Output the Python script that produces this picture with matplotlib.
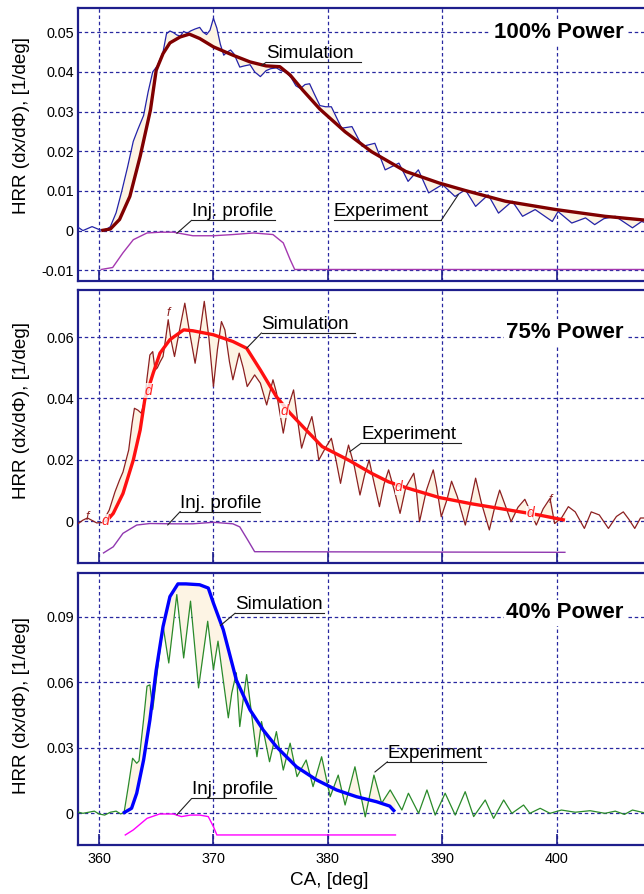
import numpy as np
import matplotlib
matplotlib.use("Agg")
import matplotlib.pyplot as plt

plt.rcParams['font.family'] = ['Liberation Sans', 'DejaVu Sans']

# ---- 100% power ----
ca_sim100 = [360.2, 361.0, 361.8, 362.7, 363.6, 364.5, 365.0, 365.6, 366.2, 367.1, 367.9, 368.8, 370.0,
             371.7, 373.2, 374.6, 375.8, 376.7, 377.8, 379.3, 381.5, 383.8, 386.8, 389.7, 392.0, 395.5,
             399.9, 404.2, 408.2]
hrr_sim100 = [0.0, 0.0004, 0.0028, 0.0086, 0.0187, 0.0304, 0.0404, 0.0446, 0.0473, 0.0488, 0.0495, 0.0484,
              0.0463, 0.0442, 0.0425, 0.0415, 0.0413, 0.0392, 0.0354, 0.0306, 0.0249, 0.0199, 0.0149, 0.0120,
              0.0101, 0.0074, 0.0053, 0.0036, 0.0025]
ca_exp100 = [358.1, 358.6, 359.0, 359.4, 359.9, 360.3, 360.7, 361.0, 361.5, 362.0, 362.5, 363.0, 363.4, 363.9,
             364.3, 364.7, 365.1, 365.6, 365.9, 366.2, 366.5, 366.8, 367.1, 367.4, 367.7, 368.0, 368.4, 368.8,
             369.1, 369.4, 369.7, 370.0, 370.3, 370.6, 370.9, 371.2, 371.5, 371.8, 372.3, 372.7, 373.2, 373.6,
             374.1, 374.6, 375.0, 375.5, 375.9, 376.3, 376.8, 377.2, 377.6, 378.0, 378.4, 378.8, 379.3, 379.8,
             380.3, 381.2, 382.1, 383.0, 384.1, 385.0, 386.2, 387.0, 387.9, 388.8, 390.0, 391.1, 392.0, 392.9,
             394.0, 394.9, 396.1, 397.0, 398.1, 399.6, 400.1, 401.3, 402.5, 403.3, 404.1, 405.1, 406.6, 407.4,
             408.2]
hrr_exp100 = [0.0010, 0.0000, 0.0005, 0.0010, 0.0004, 0.0000, 0.0004, 0.0010, 0.0045, 0.0100, 0.0160, 0.0225,
              0.0255, 0.0290, 0.0350, 0.0400, 0.0415, 0.0450, 0.0496, 0.0503, 0.0499, 0.0493, 0.0490, 0.0502,
              0.0497, 0.0503, 0.0508, 0.0512, 0.0500, 0.0494, 0.0505, 0.0535, 0.0510, 0.0470, 0.0442, 0.0450,
              0.0455, 0.0445, 0.0412, 0.0415, 0.0418, 0.0400, 0.0388, 0.0403, 0.0408, 0.0410, 0.0403, 0.0400,
              0.0385, 0.0365, 0.0358, 0.0368, 0.0370, 0.0345, 0.0315, 0.0312, 0.0312, 0.0258, 0.0262, 0.0212,
              0.0220, 0.0153, 0.0170, 0.0124, 0.0153, 0.0095, 0.0116, 0.0086, 0.0103, 0.0061, 0.0090, 0.0044,
              0.0074, 0.0036, 0.0053, 0.0023, 0.0048, 0.0019, 0.0032, 0.0015, 0.0030, 0.0036, 0.0007, 0.0023,
              0.0015]
ca_inj100 = [360.2, 361.2, 362.1, 363.0, 364.2, 365.4, 366.5, 368.2, 370.0, 371.7, 373.5, 375.2, 376.1, 376.7,
             377.1, 408.2]
inj100 = [-0.0098, -0.0093, -0.0056, -0.0023, -0.0006, -0.0004, -0.0004, -0.0013, -0.0013, -0.0010, -0.0006,
          -0.0010, -0.0031, -0.0073, -0.0098, -0.0098]

# ---- 75% power ----
ca_sim75 = [360.6, 361.25, 362.1, 363.0, 363.6, 364.0, 364.74, 365.33, 366.2, 367.4, 368.2, 370.0, 371.7, 372.9,
            374.1, 375.5, 376.7, 378.1, 379.5, 381.8, 383.8, 385.3, 387.0, 389.7, 392.6, 395.5, 398.4, 400.7]
hrr_sim75 = [-0.0003, 0.0025, 0.0090, 0.0199, 0.0297, 0.0395, 0.0483, 0.0548, 0.0592, 0.0624, 0.0621, 0.0608,
             0.0586, 0.0564, 0.0493, 0.0406, 0.0352, 0.0297, 0.0243, 0.0199, 0.0156, 0.0128, 0.0107, 0.0077,
             0.0056, 0.0038, 0.0020, 0.0003]
ca_exp75 = [358.2, 358.6, 359.0, 359.5, 359.8, 360.3, 360.9, 361.4, 361.8, 362.1, 362.6, 362.9, 363.1, 363.4,
            363.7, 364.0, 364.2, 364.45, 364.7, 364.9, 365.1, 365.35, 365.6, 365.85, 366.05, 366.3, 366.6, 367.1,
            367.5, 367.9, 368.4, 368.8, 369.2, 369.6, 370.0, 370.35, 370.7, 371.0, 371.4, 371.7, 372.25, 372.6,
            372.95, 373.6, 374.1, 374.65, 375.2, 375.5, 376.1, 376.5, 377.0, 377.35, 377.7, 378.2, 378.6, 378.9,
            379.2, 379.8, 380.3, 380.7, 381.1, 381.5, 381.8, 382.3, 382.8, 383.2, 383.6, 384.0, 384.5, 384.9,
            385.3, 385.8, 386.3, 386.8, 387.5, 387.7, 388.0, 388.6, 389.2, 389.5, 389.9, 390.4, 390.8, 391.3,
            392.0, 392.4, 392.9, 393.4, 394.1, 394.6, 395.0, 395.5, 396.0, 396.6, 397.2, 397.7, 398.2, 398.8,
            399.4, 399.8, 400.4, 401.0, 401.6, 402.4, 403.0, 403.7, 404.5, 405.2, 405.8, 406.3, 406.8, 407.3,
            408.2]
hrr_exp75 = [-0.0008, 0.0003, 0.0010, 0.0000, -0.0006, -0.0005, 0.0036, 0.0095, 0.0134, 0.0160, 0.0232, 0.0320,
             0.0368, 0.0362, 0.0352, 0.0395, 0.0466, 0.0542, 0.0553, 0.0493, 0.0500, 0.0520, 0.0537, 0.0602,
             0.0657, 0.0590, 0.0537, 0.0635, 0.0711, 0.0620, 0.0515, 0.0610, 0.0717, 0.0600, 0.0439, 0.0560,
             0.0651, 0.0624, 0.0520, 0.0461, 0.0548, 0.0500, 0.0439, 0.0477, 0.0450, 0.0379, 0.0461, 0.0420,
             0.0287, 0.0370, 0.0428, 0.0330, 0.0238, 0.0300, 0.0341, 0.0280, 0.0199, 0.0240, 0.0270, 0.0200,
             0.0123, 0.0200, 0.0248, 0.0180, 0.0085, 0.0150, 0.0199, 0.0130, 0.0047, 0.0120, 0.0167, 0.0100,
             0.0025, 0.0110, 0.0156, 0.0110, -0.0002, 0.0100, 0.0167, 0.0110, 0.0014, 0.0070, 0.0130, 0.0080,
             -0.0013, 0.0050, 0.0140, 0.0060, -0.0029, 0.0050, 0.0101, 0.0050, -0.0002, 0.0045, 0.0071, 0.0030,
             -0.0013, 0.0040, 0.0074, -0.0008, 0.0010, 0.0047, 0.0030, -0.0024, 0.0030, 0.0020, -0.0024, 0.0015,
             0.0030, 0.0005, -0.0024, 0.0010, 0.0010]
ca_inj75 = [360.4, 361.25, 362.1, 363.3, 364.45, 366.5, 368.2, 370.0, 371.7, 372.3, 373.0, 373.6, 400.7]
inj75 = [-0.0104, -0.0084, -0.0040, -0.0013, -0.0008, -0.0009, -0.0009, -0.0004, -0.0009, -0.0019, -0.0062,
         -0.0100, -0.0102]
# marker glyphs on the 75% curves
ca_mark_d = [360.6, 364.3, 376.2, 386.2, 397.7]
hrr_mark_d = [0.0000, 0.0425, 0.0360, 0.0110, 0.0025]
ca_mark_f = [359.0, 366.05, 399.4]
hrr_mark_f = [0.0014, 0.0680, 0.0069]

# ---- 40% power ----
ca_sim40 = [362.1, 362.85, 363.3, 363.9, 364.45, 365.0, 365.6, 366.2, 366.9, 367.6, 368.8, 369.55, 370.0,
            370.86, 371.7, 372.0, 373.2, 374.35, 375.5, 377.25, 379.0, 380.75, 382.5, 384.25, 385.4, 385.85]
hrr_sim40 = [0.0, 0.0023, 0.0092, 0.0244, 0.0427, 0.0656, 0.0855, 0.0992, 0.1050, 0.1050, 0.1046, 0.1031,
             0.0962, 0.0840, 0.0671, 0.0610, 0.0473, 0.0381, 0.0305, 0.0213, 0.0153, 0.0107, 0.0076, 0.0053,
             0.0033, 0.0007]
ca_exp40 = [358.1, 358.6, 359.1, 359.6, 360.0, 360.5, 361.0, 361.5, 361.9, 362.2, 362.56, 362.94, 363.3, 363.5,
            363.9, 364.2, 364.45, 364.7, 365.1, 365.6, 366.1, 366.8, 367.4, 368.0, 368.7, 369.5, 370.0, 370.4,
            371.3, 371.6, 372.0, 372.3, 372.6, 372.9, 373.8, 374.2, 374.9, 375.5, 376.1, 376.7, 377.3, 378.1,
            378.7, 379.45, 380.2, 380.9, 381.5, 382.36, 383.26, 384.02, 384.69, 385.44, 386.46, 387.03, 387.92,
            388.65, 389.37, 390.24, 391.12, 391.99, 392.73, 393.74, 394.47, 395.35, 396.07, 397.09, 397.64,
            398.54, 399.4, 400.4, 401.6, 402.9, 404.2, 405.1, 405.9, 406.6, 407.6, 408.2]
hrr_exp40 = [0.0007, 0.0000, 0.0005, 0.0010, -0.0003, -0.0008, 0.0005, 0.0010, -0.0003, 0.0005, 0.0122, 0.0252,
             0.0229, 0.0240, 0.0429, 0.0582, 0.0588, 0.0475, 0.0650, 0.0857, 0.0688, 0.1001, 0.0711, 0.0971,
             0.0574, 0.0879, 0.0658, 0.0788, 0.0437, 0.0550, 0.0643, 0.0397, 0.0520, 0.0635, 0.0259, 0.0420,
             0.0236, 0.0374, 0.0198, 0.0321, 0.0168, 0.0244, 0.0122, 0.0259, 0.0076, 0.0175, 0.0038, 0.0213,
             -0.0016, 0.0175, 0.0046, 0.0107, 0.0015, 0.0092, 0.0000, 0.0107, -0.0008, 0.0092, -0.0008, 0.0099,
             -0.0015, 0.0061, -0.0023, 0.0061, 0.0000, 0.0038, 0.0000, 0.0023, 0.0000, 0.0015, 0.0005, 0.0012,
             0.0000, 0.0010, -0.0005, 0.0015, 0.0003, 0.0005]
ca_inj40 = [362.3, 363.0, 364.2, 365.3, 366.5, 367.2, 368.0, 368.8, 369.55, 370.0, 370.3, 385.9]
inj40 = [-0.0099, -0.0076, -0.0023, -0.0003, -0.0003, -0.0015, -0.0008, -0.0008, -0.0015, -0.0061, -0.0099,
         -0.0099]

ytick100 = [-0.01, 0, 0.01, 0.02, 0.03, 0.04, 0.05]
ytick75 = [0, 0.02, 0.04, 0.06]
ytick40 = [0, 0.03, 0.06, 0.09]
xticks = [360, 370, 380, 390, 400]

navy = '#1e1e8c'
fig = plt.figure(figsize=(6.44, 8.94), dpi=100)


def make_axes(rect, ylim, yticks, ylabels, ylab_y):
    ax = fig.add_axes(rect)
    ax.set_xticks(xticks)
    ax.set_yticks(yticks)
    ax.set_yticklabels(ylabels)
    ax.set_xlim(358.17, 408.12)
    ax.set_ylim(*ylim)
    ax.grid(True, color='#2828a0', linestyle=(0, (2.8, 2.2)), linewidth=0.9)
    ax.set_axisbelow(True)
    for s in ax.spines.values():
        s.set_color(navy)
        s.set_linewidth(1.6)
    ax.tick_params(axis='x', direction='in', length=8, width=1.2, color=navy, pad=5, labelsize=10.4)
    ax.tick_params(axis='y', length=0, pad=3, labelsize=10.4)
    ax.set_ylabel('HRR (dx/d\u03a6), [1/deg]', fontsize=13.6)
    ax.yaxis.set_label_coords(-0.084, ylab_y)
    return ax


def draw(ax, ca_s, s, ca_e, e, ca_i, inj, cs, ce, ci):
    lo = max(ca_s[0], ca_e[0])
    hi = min(ca_s[-1], ca_e[-1])
    xx = np.linspace(lo, hi, 800)
    ax.fill_between(xx, np.interp(xx, ca_s, s), np.interp(xx, ca_e, e), color='#fdf4e4', lw=0, zorder=1)
    ax.plot(ca_i, inj, color=ci, lw=1.0, zorder=2)
    ax.plot(ca_e, e, color=ce, lw=0.9, zorder=3)
    ax.plot(ca_s, s, color=cs, lw=2.4, zorder=4, solid_capstyle='butt')


def callout(ax, txt, xt, yt, x2, ya, xp, yp, from_right=False):
    # label text, underline and leader line to the curve
    ax.text(xt, yt, txt, fontsize=13.6, ha='left', va='bottom', zorder=6)
    x0 = x2 if from_right else xt
    ax.annotate('', xy=(xp, yp), xytext=(x0, ya),
                arrowprops=dict(arrowstyle='-', color='#202020', lw=0.8, shrinkA=0, shrinkB=0), zorder=6)
    ax.plot([xt, x2], [ya, ya], color='#202020', lw=0.8, zorder=6)


def power_label(ax, txt, y):
    ax.text(405.85, y, txt, fontsize=16, fontweight='bold', ha='right', va='center', zorder=6,
            bbox=dict(facecolor='white', edgecolor='none', pad=2))


# panel 1
ax1 = make_axes([0.1211, 0.6857, 0.888, 0.3054], (-0.0127, 0.0561), ytick100,
                ['-0.01', '0', '0.01', '0.02', '0.03', '0.04', '0.05'], 0.568)
draw(ax1, ca_sim100, hrr_sim100, ca_exp100, hrr_exp100, ca_inj100, inj100, '#800000', '#2323a8', '#a438b0')
ax1.set_xticklabels([])
power_label(ax1, '100% Power', 0.0500)
callout(ax1, 'Simulation', 374.6, 0.0424, 382.9, 0.0424, 374.2, 0.0416)
callout(ax1, 'Experiment', 380.5, 0.0026, 389.9, 0.0026, 391.4, 0.0091, from_right=True)
callout(ax1, 'Inj. profile', 368.1, 0.0026, 375.4, 0.0026, 366.8, -0.0007)

# panel 2
ax2 = make_axes([0.1211, 0.3702, 0.888, 0.3054], (-0.0137, 0.0754), ytick75,
                ['0', '0.02', '0.04', '0.06'], 0.56)
draw(ax2, ca_sim75, hrr_sim75, ca_exp75, hrr_exp75, ca_inj75, inj75, '#ff1010', '#8c2020', '#9038b0')
ax2.set_xticklabels([])
power_label(ax2, '75% Power', 0.0615)
callout(ax2, 'Simulation', 374.2, 0.0614, 382.4, 0.0614, 372.9, 0.0564)
callout(ax2, 'Experiment', 382.9, 0.0254, 391.6, 0.0254, 381.9, 0.0226)
callout(ax2, 'Inj. profile', 367.1, 0.0031, 374.1, 0.0031, 366.0, -0.0013)
for xm, ym in zip(ca_mark_d, hrr_mark_d):
    ax2.text(xm, ym, 'd', color='#ff2020', fontsize=10, fontstyle='italic', ha='center', va='center', zorder=5,
             bbox=dict(facecolor='white', edgecolor='none', pad=0.3, alpha=0.8))
for xm, ym in zip(ca_mark_f, hrr_mark_f):
    ax2.text(xm, ym, 'f', color='#8c2020', fontsize=9, fontstyle='italic', ha='center', va='center', zorder=5)

# panel 3
ax3 = make_axes([0.1211, 0.0548, 0.888, 0.3043], (-0.0145, 0.1100), ytick40,
                ['0', '0.03', '0.06', '0.09'], 0.511)
draw(ax3, ca_sim40, hrr_sim40, ca_exp40, hrr_exp40, ca_inj40, inj40, '#0000ff', '#2a8a2a', '#ff00ff')
ax3.set_xticklabels(['360', '370', '380', '390', '400'])
power_label(ax3, '40% Power', 0.0918)
callout(ax3, 'Simulation', 371.9, 0.0916, 379.7, 0.0916, 370.6, 0.0859)
callout(ax3, 'Experiment', 385.2, 0.0236, 393.8, 0.0236, 384.1, 0.0189)
callout(ax3, 'Inj. profile', 368.1, 0.0068, 375.5, 0.0068, 366.8, -0.0007)
ax3.set_xlabel('CA, [deg]', fontsize=13.6)
ax3.xaxis.set_label_coords(0.44, -0.10)

fig.savefig('out.png', dpi=100)
